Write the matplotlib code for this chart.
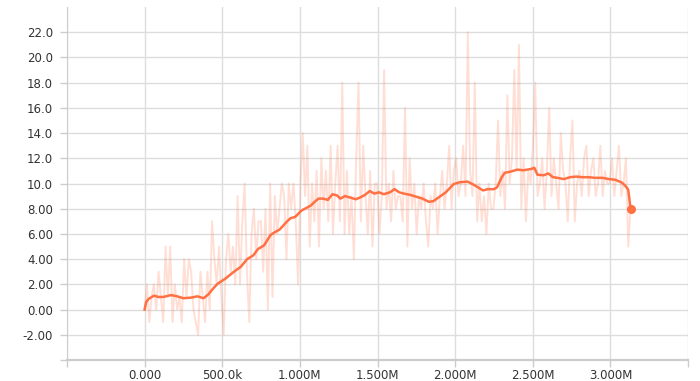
import numpy as np
import matplotlib
matplotlib.use("Agg")
import matplotlib.pyplot as plt

# ---- raw (unsmoothed) episode values, evenly spaced steps from 0 to 3.13M ----
raw_g01 = [0, 2, -1, 1, 2, 0, 3, 1, -1, 5]
raw_g02 = [1, 5, -1, 2, 0, 1, -1, 4, 1, 4]
raw_g03 = [3, 0, -1, -2, 3, 1, -1, 3, 0, 7]
raw_g04 = [4, 2, 5, 1, -2, 4, 6, 3, 5, 2]
raw_g05 = [9, 2, 7, 10, 3, -1, 6, 8, 4, 7]
raw_g06 = [7, 3, 8, 0, 10, 1, 9, 6, 8, 10]
raw_g07 = [9, 4, 10, 8, 10, 7, 2, 10, 14, 9]
raw_g08 = [13, 5, 10, 7, 11, 5, 12, 8, 11, 7]
raw_g09 = [13, 6, 10, 13, 7, 18, 6, 11, 6, 9]
raw_g10 = [4, 12, 18, 7, 13, 9, 6, 11, 5, 10]
raw_g11 = [10, 6, 9, 19, 8, 10, 7, 11, 8, 9]
raw_g12 = [9, 7, 16, 5, 12, 8, 10, 6, 9, 8]
raw_g13 = [10, 7, 5, 9, 8, 10, 6, 9, 11, 8]
raw_g14 = [10, 13, 8, 11, 12, 9, 10, 13, 9, 22]
raw_g15 = [11, 9, 18, 7, 10, 7, 9, 6, 10, 8]
raw_g16 = [8, 10, 15, 9, 11, 8, 17, 10, 12, 19]
raw_g17 = [11, 21, 8, 12, 7, 11, 10, 13, 18, 9]
raw_g18 = [10, 12, 8, 11, 16, 9, 12, 10, 8, 14]
raw_g19 = [11, 10, 7, 12, 15, 7, 10, 11, 9, 12]
raw_g20 = [13, 9, 11, 12, 9, 10, 13, 9, 11, 10]
raw_g21 = [10, 12, 9, 11, 13, 9, 10, 12, 5, 8]
raw_values = (raw_g01 + raw_g02 + raw_g03 + raw_g04 + raw_g05 + raw_g06 + raw_g07 +
              raw_g08 + raw_g09 + raw_g10 + raw_g11 + raw_g12 + raw_g13 + raw_g14 +
              raw_g15 + raw_g16 + raw_g17 + raw_g18 + raw_g19 + raw_g20 + raw_g21)
last_step = 3.13e6
raw_steps = np.linspace(0, last_step, len(raw_values))

# ---- smoothed curve (step in millions, value) ----
smooth_steps_m = [0.0, 0.01, 0.026, 0.06, 0.09, 0.12, 0.17, 0.21, 0.25, 0.30, 0.34, 0.38,
                  0.41, 0.44, 0.47, 0.52, 0.57, 0.62, 0.66, 0.70, 0.73, 0.77, 0.81, 0.84,
                  0.87, 0.91, 0.94, 0.97, 1.01, 1.04, 1.07, 1.10, 1.12, 1.15, 1.18, 1.21,
                  1.24, 1.26, 1.29, 1.32, 1.36, 1.39, 1.42, 1.45, 1.48, 1.51, 1.54, 1.58,
                  1.61, 1.64, 1.67, 1.71, 1.75, 1.79, 1.83, 1.86, 1.90, 1.94, 1.99, 2.03,
                  2.08, 2.12, 2.16, 2.18, 2.21, 2.25, 2.27, 2.30, 2.32, 2.36, 2.40, 2.44,
                  2.49, 2.51, 2.53, 2.57, 2.60, 2.63, 2.66, 2.70, 2.74, 2.78, 2.82, 2.86,
                  2.90, 2.95, 2.99, 3.03, 3.07, 3.09, 3.11, 3.115, 3.13]
smooth_values = [0.0, 0.6, 0.85, 1.1, 1.0, 1.0, 1.15, 1.05, 0.9, 0.95, 1.05, 0.9,
                 1.2, 1.65, 2.05, 2.45, 2.95, 3.4, 4.0, 4.3, 4.8, 5.1, 5.9, 6.15,
                 6.35, 6.9, 7.25, 7.35, 7.85, 8.05, 8.25, 8.6, 8.8, 8.8, 8.7, 9.15,
                 9.05, 8.8, 9.0, 8.9, 8.75, 8.9, 9.1, 9.4, 9.2, 9.3, 9.15, 9.3,
                 9.55, 9.3, 9.2, 9.1, 8.95, 8.8, 8.55, 8.6, 8.95, 9.3, 9.95, 10.1,
                 10.15, 9.9, 9.6, 9.45, 9.55, 9.55, 9.7, 10.5, 10.85, 10.95, 11.1, 11.05,
                 11.15, 11.25, 10.7, 10.65, 10.8, 10.5, 10.45, 10.35, 10.5, 10.55, 10.5, 10.5,
                 10.45, 10.45, 10.35, 10.3, 10.1, 9.9, 9.6, 9.5, 8.0]
smooth_steps = np.array(smooth_steps_m) * 1e6

x_ticks = [-0.5e6, 0, 0.5e6, 1.0e6, 1.5e6, 2.0e6, 2.5e6, 3.0e6, 3.5e6]
x_tick_labels = ["", "0.000", "500.0k", "1.000M", "1.500M", "2.000M", "2.500M", "3.000M", ""]
y_ticks = [-4, -2, 0, 2, 4, 6, 8, 10, 12, 14, 16, 18, 20, 22]
y_tick_labels = ["", "-2.00", "0.00", "2.00", "4.00", "6.00", "8.00", "10.0", "12.0",
                 "14.0", "16.0", "18.0", "20.0", "22.0"]

plt.rcParams['font.family'] = ['DejaVu Sans']
fig = plt.figure(figsize=(7.0, 3.81), dpi=100)
ax = fig.add_axes([67/700, 21/381, 621/700, 353/381])

orange = "#ff7043"
ax.plot(raw_steps, raw_values, color=orange, alpha=0.22, lw=1.4, zorder=2)
ax.plot(smooth_steps, smooth_values, color=orange, lw=1.8, zorder=3)
ax.plot([smooth_steps[-1]], [smooth_values[-1]], 'o', color=orange, ms=5.5, zorder=4)

ax.set_xlim(-0.5e6, 3.5e6)
ax.set_ylim(-4, 24)
ax.set_xticks(x_ticks)
ax.set_xticklabels(x_tick_labels)
ax.set_yticks(y_ticks)
ax.set_yticklabels(y_tick_labels)
ax.grid(True, color="#dddddd", lw=1.0, zorder=0)
ax.set_axisbelow(True)
for s in ["top", "right"]:
    ax.spines[s].set_visible(False)
ax.spines["left"].set_color("#cccccc")
ax.spines["bottom"].set_color("#cccccc")
ax.spines["bottom"].set_linewidth(1.6)
ax.tick_params(axis="both", colors="#cccccc", length=5, width=1.0, labelsize=8.5,
               labelcolor="#333333")
ax.tick_params(axis="y", pad=5)
ax.tick_params(axis="x", pad=1.5)

fig.savefig("out.png", dpi=100)
